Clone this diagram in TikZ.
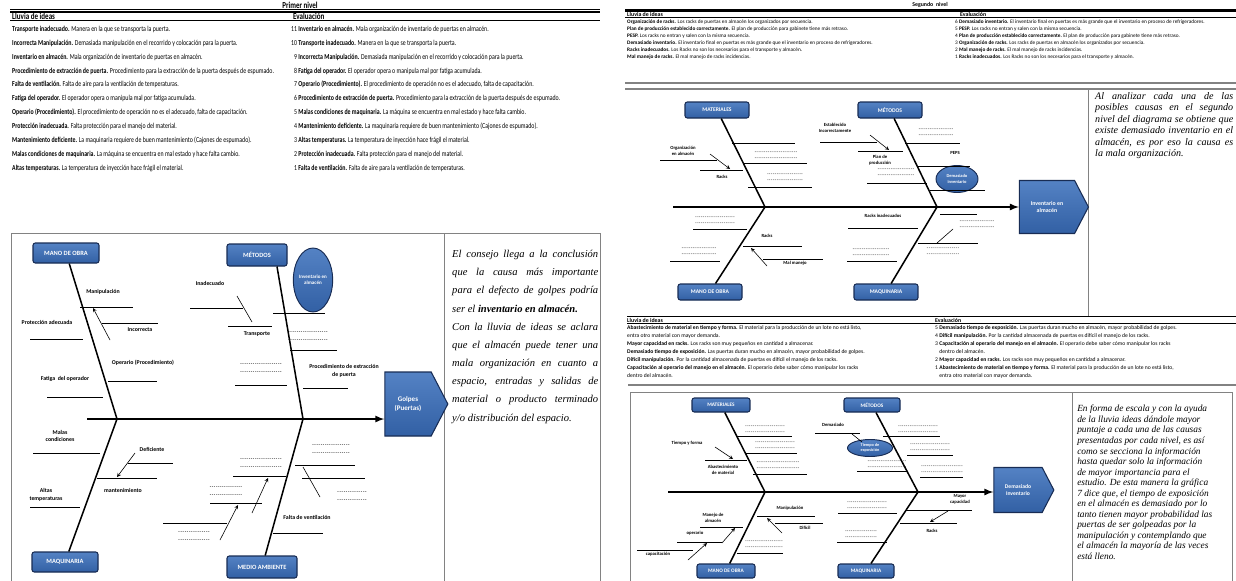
\documentclass[tikz,border=0pt]{standalone}
\usepackage{fontspec}
\setmainfont{Carlito}
\newfontfamily\notefont{Liberation Serif}
\usepackage{graphicx}
\usetikzlibrary{shapes.geometric,shapes.symbols,positioning}
\definecolor{catblue}{RGB}{50,96,164}
\definecolor{catlight}{RGB}{84,130,196}
\definecolor{catnavy}{RGB}{24,44,84}
\definecolor{framegrey}{RGB}{130,130,130}
\newlength{\pxu}\setlength{\pxu}{0.03cm}
\newcommand{\tallrow}[1]{\scalebox{1}[1.3]{#1}}
\newcommand{\dashrow}[1]{\leavevmode\hbox to #1{\xleaders\hbox{\kern0.25pt-\kern0.25pt}\hfill}}
\newcommand{\dashpair}[1]{\dashrow{#1}\\\dashrow{#1}}
\newcommand{\jline}[2]{\makebox[#1][s]{#2}}
\newcommand{\evnum}[1]{\makebox[5pt][r]{#1}}

\begin{document}
\begin{tikzpicture}[x=0.03cm, y=-0.03cm,
    cat/.style = {draw=catnavy, top color=catlight, bottom color=catblue, rounded corners=2pt,
                  line width=0.9pt, text=white, inner sep=0,
                  font=\bfseries\fontsize{5.5}{6}\selectfont,
                  minimum width=66*\pxu, minimum height=20*\pxu},
    small/.style = {minimum width=64*\pxu, minimum height=16*\pxu,
                  font=\bfseries\fontsize{4.8}{5}\selectfont},
    effect/.style = {signal, signal to=east, signal pointer angle=125, draw=catnavy,
                  top color=catlight, bottom color=catblue, line width=0.9pt, text=white,
                  align=center, inner sep=0, font=\bfseries\fontsize{6}{8}\selectfont},
    blob/.style = {ellipse, draw=catnavy, top color=catlight, bottom color=catblue,
                  line width=0.8pt, text=white, align=center, inner sep=0,
                  font=\bfseries\fontsize{4.3}{5}\selectfont},
    bone/.style = {line width=1.3pt},
    spine/.style = {line width=1.6pt, -latex},
    sub/.style = {line width=0.5pt},
    tick/.style = {line width=0.5pt, -stealth},
    lbl/.style = {inner sep=0, align=center, font=\bfseries\fontsize{5}{6.5}\selectfont},
    lbs/.style = {inner sep=0, align=center, font=\bfseries\fontsize{4}{5}\selectfont},
    dsh/.style = {inner sep=0, align=left, font=\bfseries\fontsize{4}{6.5}\selectfont},
    dss/.style = {inner sep=0, align=left, font=\bfseries\fontsize{3.5}{5}\selectfont},
    frame/.style = {draw=framegrey, line width=0.6pt},
    note/.style = {anchor=north west, inner sep=0, align=left},
    head/.style = {anchor=west, inner sep=0, font=\bfseries\fontsize{6}{7}\selectfont},
    arow/.style = {anchor=north west, inner sep=0, minimum height=13.4*\pxu,
                  text height=5pt, text depth=1.5pt, font=\fontsize{5}{6}\selectfont},
    crow/.style = {anchor=north west, inner sep=0, minimum height=6.6*\pxu,
                  text height=3.4pt, text depth=1pt, font=\fontsize{4.5}{5}\selectfont},
    erow/.style = {anchor=north west, inner sep=0, minimum height=7.4*\pxu,
                  text height=3.6pt, text depth=1pt, font=\fontsize{4.8}{5}\selectfont}]
\useasboundingbox (0,0) rectangle (1236,580);

% primer nivel: tabla
\begin{scope}[node distance=0pt]
\node[font=\bfseries\fontsize{6}{7}\selectfont, inner sep=0] (t1) at (300,5) {\tallrow{Primer nivel}};
\draw[line width=0.4pt] (10,9.5) -- (600,9.5);
\draw[line width=1.2pt] (10,11.8) -- (600,11.8);
\node[head] (h1) at (12,16) {\tallrow{Lluvia de ideas}};
\node[head] (h2) at (293,16) {\tallrow{Evaluación}};
\draw[line width=0.7pt] (10,20.5) -- (600,20.5);
\node[arow] (a1) at (12,22.5) {\tallrow{\textbf{Transporte inadecuado.} Manera en la que se transporta la puerta.}};
\node[below= of a1.south west, arow] (a2) {\tallrow{\textbf{Incorrecta Manipulación.} Demasiada manipulación en el recorrido y colocación para la puerta.}};
\node[below= of a2.south west, arow] (a3) {\tallrow{\textbf{Inventario en almacén.} Mala organización de inventario de puertas en almacén.}};
\node[below= of a3.south west, arow] (a4) {\tallrow{\textbf{Procedimiento de extracción de puerta.} Procedimiento para la extracción de la puerta después de espumado.}};
\node[below= of a4.south west, arow] (a5) {\tallrow{\textbf{Falta de ventilación.} Falta de aire para la ventilación de temperaturas.}};
\node[below= of a5.south west, arow] (a6) {\tallrow{\textbf{Fatiga del operador.} El operador opera o manipula mal por fatiga acumulada.}};
\node[below= of a6.south west, arow] (a7) {\tallrow{\textbf{Operario (Procedimiento).} El procedimiento de operación no es el adecuado, falta de capacitación.}};
\node[below= of a7.south west, arow] (a8) {\tallrow{\textbf{Protección inadecuada.} Falta protección para el manejo del material.}};
\node[below= of a8.south west, arow] (a9) {\tallrow{\textbf{Mantenimiento deficiente.} La maquinaria requiere de buen mantenimiento (Cajones de espumado).}};
\node[below= of a9.south west, arow] (a10) {\tallrow{\textbf{Malas condiciones de maquinaria.} La máquina se encuentra en mal estado y hace falta cambio.}};
\node[below= of a10.south west, arow] (a11) {\tallrow{\textbf{Altas temperaturas.} La temperatura de inyección hace frágil el material.}};
\node[arow] (b1) at (291,22.5) {\tallrow{\evnum{11} \textbf{Inventario en almacén.} Mala organización de inventario de puertas en almacén.}};
\node[below= of b1.south west, arow] (b2) {\tallrow{\evnum{10} \textbf{Transporte inadecuado.} Manera en la que se transporta la puerta.}};
\node[below= of b2.south west, arow] (b3) {\tallrow{\evnum{9} \textbf{Incorrecta Manipulación.} Demasiada manipulación en el recorrido y colocación para la puerta.}};
\node[below= of b3.south west, arow] (b4) {\tallrow{\evnum{8} \textbf{Fatiga del operador.} El operador opera o manipula mal por fatiga acumulada.}};
\node[below= of b4.south west, arow] (b5) {\tallrow{\evnum{7} \textbf{Operario (Procedimiento).} El procedimiento de operación no es el adecuado, falta de capacitación.}};
\node[below= of b5.south west, arow] (b6) {\tallrow{\evnum{6} \textbf{Procedimiento de extracción de puerta.} Procedimiento para la extracción de la puerta después de espumado.}};
\node[below= of b6.south west, arow] (b7) {\tallrow{\evnum{5} \textbf{Malas condiciones de maquinaria.} La máquina se encuentra en mal estado y hace falta cambio.}};
\node[below= of b7.south west, arow] (b8) {\tallrow{\evnum{4} \textbf{Mantenimiento deficiente.} La maquinaria requiere de buen mantenimiento (Cajones de espumado).}};
\node[below= of b8.south west, arow] (b9) {\tallrow{\evnum{3} \textbf{Altas temperaturas.} La temperatura de inyección hace frágil el material.}};
\node[below= of b9.south west, arow] (b10) {\tallrow{\evnum{2} \textbf{Protección inadecuada.} Falta protección para el manejo del material.}};
\node[below= of b10.south west, arow] (b11) {\tallrow{\evnum{1} \textbf{Falta de ventilación.} Falta de aire para la ventilación de temperaturas.}};
\end{scope}

% primer nivel: espina
\draw[frame] (11,233) rectangle (600,584);
\draw[frame] (444,233) -- (444,584);
\node[cat] (mo1) at (66,253) {MANO DE OBRA};
\node[cat, minimum width=60*\pxu, minimum height=22*\pxu] (me1) at (257,255) {MÉTODOS};
\node[cat] (mq1) at (65,562) {MAQUINARIA};
\node[cat, minimum width=70*\pxu, minimum height=22*\pxu] (ma1) at (262,567) {MEDIO AMBIENTE};
\node[blob, minimum width=37*\pxu, minimum height=64*\pxu] (in1) at (313,280) {Inventario en\\almacén};
\node[effect, minimum width=63*\pxu, minimum height=64*\pxu] (ef1) at (408,404) {Golpes\\(Puertas)};
\coordinate (s1) at (87,419);
\coordinate (j1) at (117,419);
\coordinate (j2) at (303,419);
\draw[spine] (s1) -- (s1 -| ef1.west);
\draw[bone] (mo1) -- (j1) -- (mq1);
\draw[bone] ([xshift=20*\pxu]me1.south) -- (j2) -- (ma1);
\node[lbl] (la1) at (103,292) {Manipulación};
\node[lbl] (la2) at (140,330) {Incorrecta};
\node[lbl] (la3) at (47,322) {Protección adecuada};
\node[lbl] (la4) at (143,363) {Operario (Procedimiento)};
\node[lbl] (la5) at (65,379) {Fatiga\ \ del operador};
\node[lbl] (la6) at (60,436) {Malas\\condiciones};
\node[lbl] (la7) at (152,449) {Deficiente};
\node[lbl] (la8) at (123,490) {mantenimiento};
\node[lbl] (la9) at (46,495) {Altas\\temperaturas};
\node[lbl] (la10) at (210,283) {Inadecuado};
\node[lbl] (la11) at (257,334) {Transporte};
\node[lbl] (la12) at (344,371) {Procedimiento de extracción\\de puerta};
\node[lbl] (la13) at (307,517) {Falta de ventilación};
\node[dsh] (da1) at (261,369) {\dashpair{42\pxu}};
\node[dsh] (da2) at (308,337) {\dashpair{40\pxu}};
\node[dsh] (da3) at (261,464) {\dashpair{42\pxu}};
\node[dsh] (da4) at (226,492) {\dashpair{33\pxu}};
\node[dsh] (da5) at (194,537) {\dashpair{32\pxu}};
\node[dsh] (da6) at (331,450) {\dashpair{38\pxu}};
\node[dsh] (da7) at (352,497) {\dashpair{30\pxu}};
\draw[sub] (80,307) -- (133,307);
\draw[sub] (102,323) -- (158,323);
\draw[sub] (30,339) -- (83,339);
\draw[sub] (108,381) -- (157,381);
\draw[sub] (47,397) -- (103,397);
\draw[sub] (33,453) -- (100,453);
\draw[sub] (128,463) -- (173,463);
\draw[sub] (97,478) -- (157,478);
\draw[sub] (30,507) -- (80,507);
\draw[sub] (190,308) -- (243,308);
\draw[sub] (228,326) -- (272,326);
\draw[sub] (235,385) -- (287,385);
\draw[sub] (273,313) -- (325,313);
\draw[sub] (290,350) -- (337,350);
\draw[sub] (303,388) -- (348,388);
\draw[sub] (233,476) -- (286,476);
\draw[sub] (210,503) -- (262,503);
\draw[sub] (163,523) -- (227,523);
\draw[sub] (295,465) -- (355,465);
\draw[sub] (302,478) -- (365,478);
\draw[sub] (273,533) -- (323,533);
\draw[tick] (110,340) -- (93,308);
\draw[tick] (135,453) -- (117,477);
\draw[sub] (237,296) -- (252,322);
\draw[tick] (252,513) -- (268,478);
\draw[tick] (220,540) -- (238,505);
\draw[sub] (303,467) -- (320,497);
\node[note, font=\notefont\itshape\fontsize{9}{15.5}\selectfont] (nt1) at (452,250) {%
\jline{146\pxu}{El consejo llega a la conclusión}\\
\jline{146\pxu}{que la causa más importante}\\
\jline{146\pxu}{para el defecto de golpes podría}\\
ser el \textbf{inventario en almacén.}\\
\jline{146\pxu}{Con la lluvia de ideas se aclara}\\
\jline{146\pxu}{que el almacén puede tener una}\\
\jline{146\pxu}{mala organización en cuanto a}\\
\jline{146\pxu}{espacio, entradas y salidas de}\\
\jline{146\pxu}{material o producto terminado}\\
y/o distribución del espacio.};

% segundo nivel: tabla
\begin{scope}[node distance=0pt]
\node[font=\bfseries\fontsize{5}{6}\selectfont, inner sep=0] (t2) at (930,5) {Segundo\ \ nivel};
\draw[line width=0.4pt] (625,9) -- (1236,9);
\draw[line width=1pt] (625,11) -- (1236,11);
\node[head, font=\bfseries\fontsize{5}{6}\selectfont] (h3) at (627,14.5) {Lluvia de ideas};
\node[head, font=\bfseries\fontsize{5}{6}\selectfont] (h4) at (960,14.5) {Evaluación};
\draw[line width=0.6pt] (625,17.5) -- (1236,17.5);
\node[crow] (c1) at (627,18.5) {\textbf{Organización de racks.} Los racks de puertas en almacén los organizados por secuencia.};
\node[below= of c1.south west, crow] (c2) {\textbf{Plan de producción establecido correctamente.} El plan de producción para gabinete tiene más retraso.};
\node[below= of c2.south west, crow] (c3) {\textbf{PESP.} Los racks no entran y salen con la misma secuencia.};
\node[below= of c3.south west, crow] (c4) {\textbf{Demasiado inventario.} El inventario final en puertas es más grande que el inventario en proceso de refrigeradores.};
\node[below= of c4.south west, crow] (c5) {\textbf{Racks inadecuados.} Los Racks no son los necesarios para el transporte y almacén.};
\node[below= of c5.south west, crow] (c6) {\textbf{Mal manejo de racks.} El mal manejo de racks incidencias.};
\node[crow] (d1) at (955,18.5) {6 \textbf{Demasiado inventario.} El inventario final en puertas es más grande que el inventario en proceso de refrigeradores.};
\node[below= of d1.south west, crow] (d2) {5 \textbf{PESP.} Los racks no entran y salen con la misma secuencia.};
\node[below= of d2.south west, crow] (d3) {4 \textbf{Plan de producción establecido correctamente.} El plan de producción para gabinete tiene más retraso.};
\node[below= of d3.south west, crow] (d4) {3 \textbf{Organización de racks.} Los racks de puertas en almacén los organizados por secuencia.};
\node[below= of d4.south west, crow] (d5) {2 \textbf{Mal manejo de racks.} El mal manejo de racks incidencias.};
\node[below= of d5.south west, crow] (d6) {1 \textbf{Racks inadecuados.} Los Racks no son los necesarios para el transporte y almacén.};
\end{scope}

% segundo nivel: espina
\draw[frame, line width=0.9pt] (625,83) -- (1236,83);
\draw[frame, line width=0.9pt] (625,89) -- (1236,89);
\draw[frame] (1088,89) -- (1088,316);
\node[cat, small] (ma2) at (717,110) {MATERIALES};
\node[cat, small] (me2) at (890,110) {MÉTODOS};
\node[cat, small] (mo2) at (710,292) {MANO DE OBRA};
\node[cat, small] (mq2) at (886,292) {MAQUINARIA};
\node[effect, minimum width=69*\pxu, minimum height=53*\pxu, font=\bfseries\fontsize{5}{6.5}\selectfont] (ef2) at (1047,207) {Inventario en\\almacén};
\node[blob, minimum width=42*\pxu, minimum height=27*\pxu, font=\bfseries\fontsize{3.8}{4.5}\selectfont] (in2) at (957,179) {Demasiado\\inventario};
\coordinate (s2) at (673,207);
\coordinate (j3) at (765,207);
\coordinate (j4) at (937,207);
\draw[spine] (s2) -- (s2 -| ef2.west);
\draw[bone] (ma2) -- (j3) -- (mo2);
\draw[bone] (me2) -- (j4) -- (mq2);
\node[lbs] (lb1) at (683,151) {Organización\\en almacén};
\node[lbs] (lb2) at (722,177) {Racks};
\node[lbs] (lb3) at (835,128) {Establecido\\Incorrectamente};
\node[lbs] (lb4) at (880,160) {Plan de\\producción};
\node[lbs] (lb5) at (955,153) {PEPS};
\node[lbs] (lb6) at (767,236) {Racks};
\node[lbs] (lb7) at (795,263) {Mal manejo};
\node[lbs] (lb8) at (883,216) {Racks inadecuados};
\node[dss] (db1) at (776,156) {\dashpair{43\pxu}};
\node[dss] (db2) at (785,178) {\dashpair{36\pxu}};
\node[dss] (db3) at (896,173) {\dashpair{37\pxu}};
\node[dss] (db4) at (936,133) {\dashpair{35\pxu}};
\node[dss] (db5) at (715,221) {\dashpair{40\pxu}};
\node[dss] (db6) at (699,252) {\dashpair{35\pxu}};
\node[dss] (db7) at (871,253) {\dashpair{37\pxu}};
\node[dss] (db8) at (977,225) {\dashpair{35\pxu}};
\node[dss] (db9) at (943,252) {\dashpair{33\pxu}};
\draw[sub] (732,143) -- (795,143);
\draw[sub] (743,163) -- (807,163);
\draw[sub] (748,187) -- (812,187);
\draw[sub] (660,160) -- (717,160);
\draw[sub] (700,170) -- (743,170);
\draw[sub] (820,142) -- (877,142);
\draw[sub] (858,151) -- (903,151);
\draw[sub] (867,183) -- (927,183);
\draw[sub] (905,143) -- (960,143);
\draw[sub] (918,166) -- (970,166);
\draw[sub] (930,190) -- (985,190);
\draw[sub] (693,229) -- (747,229);
\draw[sub] (743,246) -- (802,246);
\draw[sub] (763,259) -- (823,259);
\draw[sub] (670,261) -- (720,261);
\draw[sub] (848,228) -- (918,228);
\draw[sub] (847,261) -- (897,261);
\draw[sub] (940,214) -- (977,214);
\draw[sub] (918,243) -- (978,243);
\draw[tick] (710,154) -- (730,169);
\draw[tick] (870,135) -- (889,150);
\draw[tick] (767,266) -- (751,248);
\draw[sub] (937,243) -- (953,229);
\node[note, font=\notefont\itshape\fontsize{8.6}{9.8}\selectfont] (nt2) at (1095,92) {%
\jline{138\pxu}{Al analizar cada una de las}\\
\jline{138\pxu}{posibles causas en el segundo}\\
\jline{138\pxu}{nivel del diagrama se obtiene que}\\
\jline{138\pxu}{existe demasiado inventario en el}\\
\jline{138\pxu}{almacén, es por eso la causa es}\\
la mala organización.};

% tercer bloque: tabla
\begin{scope}[node distance=0pt]
\draw[line width=0.8pt] (627,316) -- (1236,316);
\node[head, font=\bfseries\fontsize{5}{6}\selectfont] (h5) at (627,320) {Lluvia de ideas};
\node[head, font=\bfseries\fontsize{5}{6}\selectfont] (h6) at (935,320) {Evaluación};
\draw[line width=0.6pt] (627,323.8) -- (1236,323.8);
\node[erow] (e1) at (627,324.5) {\textbf{Abastecimiento de material en tiempo y forma.} El material para la producción de un lote no está listo,};
\node[below= of e1.south west, erow] (e2) {entra otro material con mayor demanda.};
\node[below= of e2.south west, erow] (e3) {\textbf{Mayor capacidad en racks.} Los racks son muy pequeños en cantidad a almacenar.};
\node[below= of e3.south west, erow] (e4) {\textbf{Demasiado tiempo de exposición.} Las puertas duran mucho en almacén, mayor probabilidad de golpes.};
\node[below= of e4.south west, erow] (e5) {\textbf{Difícil manipulación.} Por la cantidad almacenada de puertas es difícil el manejo de los racks.};
\node[below= of e5.south west, erow] (e6) {\textbf{Capacitación al operario del manejo en el almacén.} El operario debe saber cómo manipular los racks};
\node[below= of e6.south west, erow] (e7) {dentro del almacén.};
\node[erow] (f1) at (935,324.5) {5 \textbf{Demasiado tiempo de exposición.} Las puertas duran mucho en almacén, mayor probabilidad de golpes.};
\node[below= of f1.south west, erow] (f2) {4 \textbf{Difícil manipulación.} Por la cantidad almacenada de puertas es difícil el manejo de los racks.};
\node[below= of f2.south west, erow] (f3) {3 \textbf{Capacitación al operario del manejo en el almacén.} El operario debe saber cómo manipular los racks};
\node[below= of f3.south west, erow] (f4) {\phantom{3 }dentro del almacén.};
\node[below= of f4.south west, erow] (f5) {2 \textbf{Mayor capacidad en racks.} Los racks son muy pequeños en cantidad a almacenar.};
\node[below= of f5.south west, erow] (f6) {1 \textbf{Abastecimiento de material en tiempo y forma.} El material para la producción de un lote no está listo,};
\node[below= of f6.south west, erow] (f7) {\phantom{1 }entra otro material con mayor demanda.};
\draw[frame, line width=0.9pt] (628,385) -- (1236,385);
\end{scope}

% tercer bloque: espina
\draw[frame] (630,392) rectangle (1072,584);
\draw[frame] (1072,392) rectangle (1232,584);
\node[cat, small, minimum width=58*\pxu, minimum height=14*\pxu, font=\bfseries\fontsize{4.5}{5}\selectfont] (ma3) at (721,405) {MATERIALES};
\node[cat, small, minimum width=56*\pxu, minimum height=14*\pxu, font=\bfseries\fontsize{4.5}{5}\selectfont] (me3) at (872,405) {MÉTODOS};
\node[cat, small, minimum width=58*\pxu, minimum height=14*\pxu, font=\bfseries\fontsize{4.5}{5}\selectfont] (mo3) at (726,571) {MANO DE OBRA};
\node[cat, small, minimum width=56*\pxu, minimum height=14*\pxu, font=\bfseries\fontsize{4.5}{5}\selectfont] (mq3) at (866,571) {MAQUINARIA};
\node[effect, minimum width=60*\pxu, minimum height=45*\pxu, font=\bfseries\fontsize{4.8}{6}\selectfont] (ef3) at (1018,490) {Demasiado\\Inventario};
\node[blob, minimum width=45*\pxu, minimum height=17*\pxu, font=\bfseries\fontsize{3.6}{4.2}\selectfont] (in3) at (870,448) {Tiempo de\\exposición};
\coordinate (s3) at (668,492);
\coordinate (j5) at (765,492);
\coordinate (j6) at (918,492);
\draw[spine] (s3) -- (s3 -| ef3.west);
\draw[bone] (ma3) -- (j5) -- (mo3);
\draw[bone] (me3) -- (j6) -- (mq3);
\node[lbs] (lc1) at (687,443) {Tiempo y forma};
\node[lbs] (lc2) at (723,470) {Abastecimiento\\de material};
\node[lbs] (lc3) at (833,425) {Demasiado};
\node[lbs] (lc4) at (790,508) {Manipulación};
\node[lbs] (lc5) at (805,528) {Difícil};
\node[lbs] (lc6) at (713,518) {Manejo de\\almacén};
\node[lbs] (lc7) at (695,533) {operario};
\node[lbs] (lc8) at (658,554) {capacitación};
\node[lbs] (lc9) at (960,499) {Mayor\\capacidad};
\node[lbs] (lc10) at (932,531) {Racks};
\node[dss] (dc1) at (765,430) {\dashpair{40\pxu}};
\node[dss] (dc2) at (775,446) {\dashpair{40\pxu}};
\node[dss] (dc3) at (778,466) {\dashpair{43\pxu}};
\node[dss] (dc4) at (887,465) {\dashpair{39\pxu}};
\node[dss] (dc5) at (918,430) {\dashpair{40\pxu}};
\node[dss] (dc6) at (930,448) {\dashpair{40\pxu}};
\node[dss] (dc7) at (942,470) {\dashpair{42\pxu}};
\node[dss] (dc8) at (764,545) {\dashpair{38\pxu}};
\node[dss] (dc9) at (867,506) {\dashpair{40\pxu}};
\node[dss] (dc10) at (861,535) {\dashpair{32\pxu}};
\draw[sub] (737,436) -- (792,436);
\draw[sub] (705,460) -- (747,460);
\draw[sub] (745,453) -- (797,453);
\draw[sub] (753,474) -- (807,474);
\draw[sub] (815,433) -- (860,433);
\draw[sub] (857,471) -- (907,471);
\draw[sub] (883,436) -- (940,436);
\draw[sub] (907,455) -- (953,455);
\draw[sub] (920,477) -- (963,477);
\draw[sub] (757,516) -- (815,516);
\draw[sub] (775,523) -- (823,523);
\draw[sub] (700,527) -- (743,527);
\draw[sub] (677,542) -- (722,542);
\draw[sub] (637,550) -- (693,550);
\draw[sub] (737,553) -- (783,553);
\draw[sub] (838,513) -- (897,513);
\draw[sub] (837,542) -- (887,542);
\draw[sub] (905,510) -- (972,510);
\draw[sub] (900,523) -- (957,523);
\draw[tick] (715,447) -- (733,459);
\draw[sub] (852,434) -- (862,442);
\draw[tick] (782,533) -- (767,518);
\draw[tick] (722,543) -- (735,528);
\draw[tick] (688,560) -- (707,543);
\draw[tick] (948,511) -- (930,522);
\node[note, font=\notefont\itshape\fontsize{8}{9}\selectfont] (nt3) at (1077,405) {%
En forma de escala y con la ayuda\\
de la lluvia ideas dándole mayor\\
puntaje a cada una de las causas\\
presentadas por cada nivel, es así\\
como se secciona la información\\
hasta quedar solo la información\\
de mayor importancia para el\\
estudio. De esta manera la gráfica\\
7 dice que, el tiempo de exposición\\
en el almacén es demasiado por lo\\
tanto tienen mayor probabilidad las\\
puertas de ser golpeadas por la\\
manipulación y contemplando que\\
el almacén la mayoría de las veces\\
está lleno.};
\end{tikzpicture}
\end{document}
